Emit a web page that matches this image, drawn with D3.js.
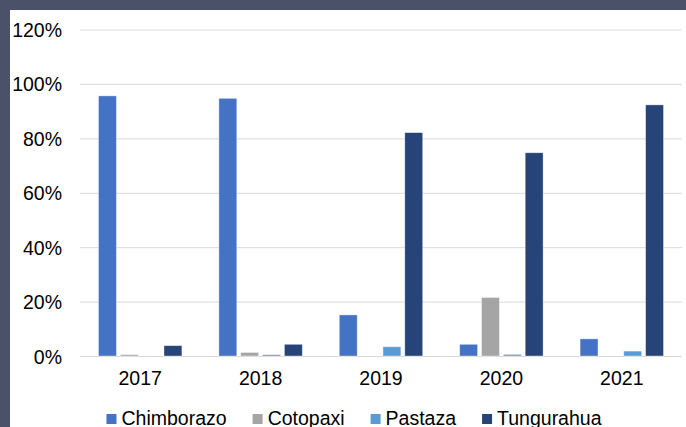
<!DOCTYPE html>
<html>
<head>
<meta charset="utf-8">
<script src="https://cdn.jsdelivr.net/npm/d3@7"></script>
<style>
  body { margin: 0; background: #4a5168; }
  svg { display: block; }
  text { font-family: "Liberation Sans", Arial, sans-serif; fill: #000; }
</style>
</head>
<body>
<div id="chart"></div>
<script>
// data
var years = ["2017", "2018", "2019", "2020", "2021"];
var provinces = ["Chimborazo", "Cotopaxi", "Pastaza", "Tungurahua"];
var chimborazo = [0.956, 0.947, 0.151, 0.043, 0.063];
var cotopaxi   = [0.005, 0.013, 0.0, 0.215, 0.0];
var pastaza    = [0.0, 0.005, 0.034, 0.006, 0.018];
var tungurahua = [0.038, 0.043, 0.821, 0.747, 0.923];
var yTicks = [0, 0.2, 0.4, 0.6, 0.8, 1.0, 1.2];
var colors = ["#4472c4", "#a5a5a5", "#5b9bd5", "#264478"];

var series = [chimborazo, cotopaxi, pastaza, tungurahua];

var W = 686, H = 427;
var margin = { top: 29.5, right: 4, bottom: 71, left: 80 },
  width = W - margin.left - margin.right,
  height = H - margin.top - margin.bottom;

var root = d3.select("#chart")
  .append("svg")
  .attr("width", W)
  .attr("height", H);

// white chart area inside the dark frame
root.append("rect")
  .attr("x", 10).attr("y", 10)
  .attr("width", W - 10).attr("height", H - 10)
  .attr("fill", "#fff");

var svg = root.append("g")
  .attr("transform", "translate(" + margin.left + "," + margin.top + ")");

var y = d3.scaleLinear()
  .domain([0, 1.2])
  .range([height, 0]);

var x0 = d3.scaleBand()
  .domain(years)
  .range([0, width]);

var groupPad = 18.5;
var x1 = d3.scaleBand()
  .domain(provinces)
  .range([groupPad, x0.bandwidth() - groupPad])
  .paddingInner(0.18);

// gridlines
svg.append("g")
  .attr("class", "grid")
  .call(d3.axisLeft(y)
    .tickValues(yTicks)
    .tickSize(-width)
    .tickFormat("")
  )
  .call(function (g) { g.select(".domain").remove(); })
  .selectAll("line")
  .attr("stroke", "#d9d9d9")
  .attr("stroke-width", 1);

// y labels
svg.append("g")
  .call(d3.axisLeft(y)
    .tickValues(yTicks)
    .tickSize(0)
    .tickPadding(18)
    .tickFormat(d3.format(".0%"))
  )
  .call(function (g) { g.select(".domain").remove(); })
  .selectAll("text")
  .style("font-size", "19.5px")
  .attr("dy", "0.36em");

// bars
var groups = svg.selectAll(".year")
  .data(years)
  .enter()
  .append("g")
  .attr("transform", function (d) { return "translate(" + x0(d) + ",0)"; });

groups.selectAll("rect")
  .data(function (d, i) {
    return provinces.map(function (p, j) { return { p: p, v: series[j][i], c: colors[j] }; });
  })
  .enter()
  .append("rect")
  .attr("x", function (d) { return x1(d.p); })
  .attr("width", x1.bandwidth())
  .attr("y", function (d) { return y(d.v); })
  .attr("height", function (d) { return height - y(d.v); })
  .attr("fill", function (d) { return d.c; })
  .attr("stroke", "#fff")
  .attr("stroke-opacity", 0.5)
  .attr("stroke-width", 0.75);

// x labels
svg.append("g")
  .attr("transform", "translate(0," + height + ")")
  .call(d3.axisBottom(x0).tickSize(0).tickPadding(15))
  .call(function (g) { g.select(".domain").remove(); })
  .selectAll("text")
  .style("font-size", "19.5px");

// legend (cut by the bottom edge, as in the original)
var legend = root.append("g");
var items = legend.selectAll("g")
  .data(provinces)
  .enter()
  .append("g");

items.append("rect")
  .attr("width", 10)
  .attr("height", 10)
  .attr("y", -11)
  .attr("fill", function (d, i) { return colors[i]; });

items.append("text")
  .attr("x", 15)
  .style("font-size", "19.5px")
  .text(function (d) { return d; });

var gap = 26, pos = 0, offs = [];
items.each(function () {
  offs.push(pos);
  pos += 15 + this.querySelector("text").getComputedTextLength() + gap;
});
var total = pos - gap;
var start = 354 - total / 2;
items.attr("transform", function (d, i) { return "translate(" + (start + offs[i]) + ",425)"; });
</script>
</body>
</html>
